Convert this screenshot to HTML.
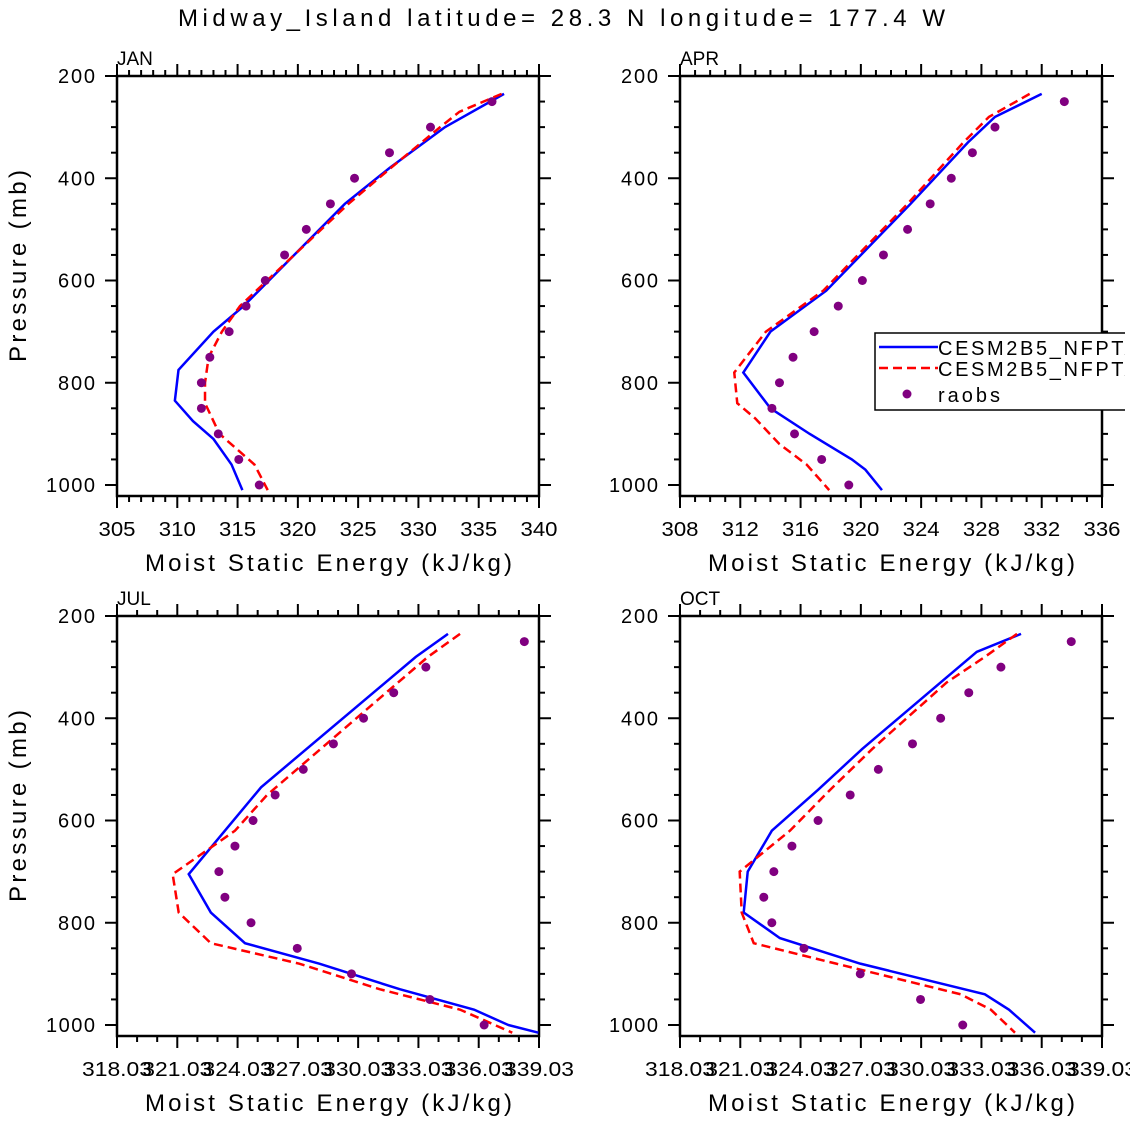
<!DOCTYPE html>
<html><head><meta charset="utf-8"><style>
html,body{margin:0;padding:0;background:#fff;}
svg{display:block;font-family:"Liberation Sans","DejaVu Sans",sans-serif;}
</style></head><body>
<svg id="c" width="1130" height="1121"></svg>
<script>
const pLevels=[250,300,350,400,450,500,550,600,650,700,750,800,850,900,950,1000];
const janObs=[336.1,331,327.6,324.7,322.7,320.7,318.9,317.3,315.7,314.3,312.7,312,312,313.4,315.1,316.8];
const aprObs=[333.5,328.9,327.4,326,324.6,323.1,321.5,320.1,318.5,316.9,315.5,314.6,314.1,315.6,317.4,319.2];
const julObs=[338.3,333.4,331.8,330.3,328.8,327.3,325.9,324.8,323.9,323.1,323.4,324.7,327,329.7,333.6,336.3];
const octObs=[337.5,334.0,332.4,331,329.6,327.9,326.5,324.9,323.6,322.7,322.2,322.6,324.2,327.0,330.0,332.1];
const janBlueP=[235,300,380,450,650,700,775,835,875,910,960,1010];
const janBlue=[337.1,332.2,327.6,323.9,315.5,313,310.1,309.8,311.3,313,314.5,315.4];
const janRedP=[235,270,300,380,450,650,700,750,800,840,900,960,1010];
const janRed=[336.9,333.4,331.8,327.7,324.2,315.2,313.7,312.6,312.3,312.3,313.5,316.4,317.5];
const aprBlueP=[235,280,330,450,620,700,780,850,900,950,970,1010];
const aprBlue=[332,328.9,327.1,323.3,317.7,314,312.2,314,316.6,319.4,320.3,321.4];
const aprRedP=[235,280,330,450,620,700,780,840,870,920,960,1010];
const aprRed=[331.2,328.5,326.8,323.1,317.5,313.7,311.6,311.8,313,314.6,316.4,317.9];
const julBlueP=[235,280,535,620,705,780,840,880,930,970,1000,1015];
const julBlue=[334.5,332.9,325.2,323.4,321.6,322.7,324.4,328.1,332.1,335.8,337.5,339];
const julRedP=[235,280,550,620,705,780,840,880,930,970,1015];
const julRed=[335.1,333.5,325.5,323.9,320.8,321.1,322.7,327.1,331.1,335.1,337.7];
const octBlueP=[235,270,330,460,540,620,700,780,830,880,940,970,1015];
const octBlue=[335.0,332.8,331,327.1,324.9,322.6,321.4,321.2,323,327,333.2,334.4,335.7];
const octRedP=[235,280,330,460,540,620,700,780,840,880,940,970,1015];
const octRed=[334.8,333.2,331.3,327.6,325.5,323.5,321,321.1,321.7,325.8,332.0,333.5,334.7];

const NS="http://www.w3.org/2000/svg";
const svg=document.getElementById('c');
function mk(tag,attrs,parent,txt){const e=document.createElementNS(NS,tag);for(const k in attrs)e.setAttribute(k,attrs[k]);if(txt!==undefined)e.textContent=txt;(parent||svg).appendChild(e);return e;}

const t=mk('text',{x:178,y:26,'font-size':24,textLength:767,lengthAdjust:'spacing'},svg,'Midway_Island  latitude= 28.3 N longitude= 177.4 W');



function panel(cfg){
  const g=mk('g',{});
  
  
  const L=cfg.x0,R=cfg.x0+422,T=cfg.y0,B=cfg.y0+420;
  const xs=v=>L+(v-cfg.xmin)/(cfg.xmax-cfg.xmin)*(R-L);
  const ys=p=>T+(p-200)*0.51125;
  const clip='clip'+cfg.name;
  const cp=mk('clipPath',{id:clip},g);mk('rect',{x:L,y:T,width:R-L,height:B-T},cp);
  for(let p=200;p<=1000;p+=50){
    const maj=p%200===0,y=ys(p),len=maj?12:6;
    mk('line',{x1:L-len,y1:y,x2:L,y2:y,stroke:'#000','stroke-width':2},g);
    mk('line',{x1:R,y1:y,x2:R+len,y2:y,stroke:'#000','stroke-width':2},g);
    if(maj){const tl=mk('text',{x:L-22,y:y+7,'font-size':20,'text-anchor':'end',textLength:37,lengthAdjust:'spacing'},g,String(p));
      if(p>=1000)tl.setAttribute('textLength',49);
      
      }
  }
  const n=Math.round((cfg.xmax-cfg.xmin)/cfg.minor);
  for(let i=0;i<=n;i++){
    const v=cfg.xmin+i*cfg.minor,x=xs(v),maj=i%cfg.every===0,len=maj?12:6;
    mk('line',{x1:x,y1:B,x2:x,y2:B+len,stroke:'#000','stroke-width':2},g);
    mk('line',{x1:x,y1:T,x2:x,y2:T-len,stroke:'#000','stroke-width':2},g);
    if(maj){const tl=mk('text',{x:x,y:B+40,'font-size':20,'text-anchor':'middle',textLength:cfg.lw,lengthAdjust:'spacingAndGlyphs'},g,cfg.fmt(v));
      
      }
  }
  const fr=mk('rect',{x:L,y:T,width:R-L,height:B-T,fill:'none',stroke:'#000','stroke-width':2.5},g);
  
  
  const lb=mk('text',{x:L,y:T-11,'font-size':19},g,cfg.label);
  
  
  const xt=mk('text',{x:L+28,y:B+75,'font-size':24,textLength:367,lengthAdjust:'spacing'},g,'Moist Static Energy (kJ/kg)');
  
  
  if(cfg.ytitle){const yt=mk('text',{x:0,y:0,'font-size':24,textLength:192,lengthAdjust:'spacing',transform:`translate(26,${(T+B)/2+76}) rotate(-90)`},g,'Pressure (mb)');
    
    }
  const pg=mk('g',{'clip-path':`url(#${clip})`},g);
  const bl=mk('polyline',{points:cfg.blue.map((v,i)=>xs(v)+','+ys(cfg.blueP[i])).join(' '),fill:'none',stroke:'#0000ff','stroke-width':2.5},pg);
  
  
  const rl=mk('polyline',{points:cfg.red.map((v,i)=>xs(v)+','+ys(cfg.redP[i])).join(' '),fill:'none',stroke:'#ff0000','stroke-width':2.5,'stroke-dasharray':'9,5'},pg);
  
  
  cfg.obs.forEach((v,i)=>{
    const c=mk('circle',{cx:xs(v),cy:ys(pLevels[i]),r:4.5,fill:'#800080'},g);
    
    
  });
}
const f0=v=>String(Math.round(v));
const f2=v=>v.toFixed(2);
panel({name:'jan',label:'JAN',x0:117,y0:76,xmin:305,xmax:340,minor:1,every:5,fmt:f0,lw:37,ytitle:true,obs:janObs,blue:janBlue,blueP:janBlueP,red:janRed,redP:janRedP});
panel({name:'apr',label:'APR',x0:680,y0:76,xmin:308,xmax:336,minor:1,every:4,fmt:f0,lw:37,obs:aprObs,blue:aprBlue,blueP:aprBlueP,red:aprRed,redP:aprRedP});
panel({name:'jul',label:'JUL',x0:117,y0:616,xmin:318.03,xmax:339.03,minor:1,every:3,fmt:f2,lw:70,ytitle:true,obs:julObs,blue:julBlue,blueP:julBlueP,red:julRed,redP:julRedP});
panel({name:'oct',label:'OCT',x0:680,y0:616,xmin:318.03,xmax:339.03,minor:1,every:3,fmt:f2,lw:70,obs:octObs,blue:octBlue,blueP:octBlueP,red:octRed,redP:octRedP});

const lcp=mk('clipPath',{id:'lgclip'});mk('rect',{x:0,y:0,width:1125,height:1121},lcp);
const lg=mk('g',{'clip-path':'url(#lgclip)'});


mk('rect',{x:875,y:333,width:270,height:77,fill:'#fff',stroke:'#000','stroke-width':1.5},lg);
mk('line',{x1:879,y1:347,x2:938,y2:347,stroke:'#0000ff','stroke-width':2.5},lg);
mk('line',{x1:879,y1:368,x2:938,y2:368,stroke:'#ff0000','stroke-width':2.5,'stroke-dasharray':'9,5'},lg);
mk('circle',{cx:907,cy:394,r:4.5,fill:'#800080'},lg);
const l1=mk('text',{x:938,y:355,'font-size':20,textLength:200,lengthAdjust:'spacing'},lg,'CESM2B5_NFPTA');


const l2=mk('text',{x:938,y:376,'font-size':20,textLength:200,lengthAdjust:'spacing'},lg,'CESM2B5_NFPTA');


const l3=mk('text',{x:938,y:402,'font-size':20,textLength:62,lengthAdjust:'spacing'},lg,'raobs');


</script>
</body></html>
